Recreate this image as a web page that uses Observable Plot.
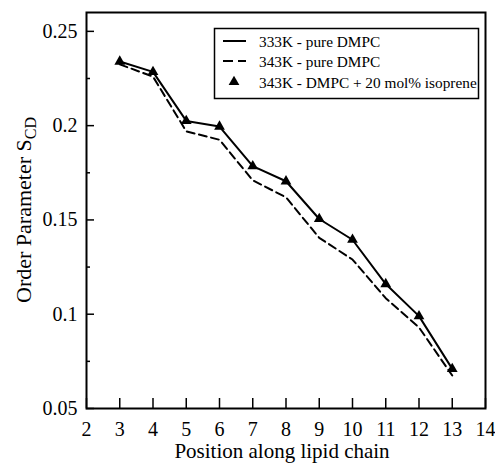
<!DOCTYPE html>
<html><head><meta charset="utf-8">
<script src="https://cdn.jsdelivr.net/npm/d3@7"></script>
<script src="https://cdn.jsdelivr.net/npm/@observablehq/plot@0.6"></script>
<style>body{margin:0;background:#fff}</style>
</head><body><div id="chart"></div>
<script>
const positions = [3, 4, 5, 6, 7, 8, 9, 10, 11, 12, 13];
const s333Pure = [0.234, 0.2285, 0.2025, 0.1995, 0.1785, 0.1705, 0.1505, 0.1395, 0.1160, 0.0990, 0.0710];
const s343Pure = [0.2325, 0.2260, 0.1970, 0.1925, 0.1710, 0.1620, 0.1405, 0.1290, 0.1085, 0.0930, 0.0675];
const s343Iso = [0.234, 0.2285, 0.2025, 0.1995, 0.1785, 0.1705, 0.1505, 0.1395, 0.1160, 0.0990, 0.0710];
const xTicks = [2, 3, 4, 5, 6, 7, 8, 9, 10, 11, 12, 13, 14];
const yTicks = [0.05, 0.1, 0.15, 0.2, 0.25];
const yTickLabels = ["0.05", "0.1", "0.15", "0.2", "0.25"];
const yMinorTicks = [0.075, 0.125, 0.175, 0.225];
const seriesLabels = ["333K - pure DMPC", "343K - pure DMPC", "343K - DMPC + 20 mol% isoprene"];
const xTitle = "Position along lipid chain";
const yTitleMain = "Order Parameter S";
const yTitleSub = "CD";

const W = 495, H = 464;
const mL = 86, mR = 10, mT = 12, mB = 56;
const innerW = W - mL - mR, innerH = H - mT - mB;
const font = "'Liberation Serif', 'Times New Roman', serif";

const rows = (ys) => positions.map((x, i) => ({x, y: ys[i]}));

const chart = Plot.plot({
  width: W, height: H,
  marginLeft: mL, marginRight: mR, marginTop: mT, marginBottom: mB,
  style: {fontFamily: font, fontSize: "20px", color: "#000", background: "#fff"},
  x: {domain: [2, 14]},
  y: {domain: [0.05, 0.26]},
  marks: [
    Plot.axisX(xTicks, {tickSize: 0, tickPadding: 13, fontSize: 20, label: null}),
    Plot.axisY(yTicks, {tickSize: 0, tickPadding: 9, fontSize: 20, label: null,
      tickFormat: (d) => yTickLabels[yTicks.indexOf(d)]}),
    Plot.tickX(xTicks, {x: (d) => d, insetTop: innerH - 10, stroke: "#000", strokeWidth: 1.5}),
    Plot.tickY(yTicks, {y: (d) => d, insetRight: innerW - 8, stroke: "#000", strokeWidth: 1.5}),
    Plot.tickY(yMinorTicks, {y: (d) => d, insetRight: innerW - 4, stroke: "#000", strokeWidth: 1.5}),
    Plot.line(rows(s343Pure), {x: "x", y: "y", stroke: "#000", strokeWidth: 2, strokeDasharray: "8,4.5"}),
    Plot.line(rows(s333Pure), {x: "x", y: "y", stroke: "#000", strokeWidth: 2}),
    Plot.dot(rows(s343Iso), {x: "x", y: "y", symbol: "triangle", r: 4, fill: "#000", stroke: "none"}),
    Plot.frame({stroke: "#000", strokeWidth: 2}),
    Plot.text([xTitle], {frameAnchor: "bottom", dy: 43, dx: -4, fontSize: 21, lineAnchor: "middle", fill: "#000"})
  ]
});

const svg = d3.select(chart);
// Y axis title with subscript
const yt = svg.append("text")
  .attr("transform", `translate(31,210) rotate(-90)`)
  .attr("text-anchor", "middle")
  .attr("font-family", font)
  .attr("font-size", 22)
  .attr("fill", "#000");
yt.append("tspan").text(yTitleMain);
yt.append("tspan").attr("font-size", 16).attr("dy", 5).text(yTitleSub);

// Legend
const lg = svg.append("g").attr("font-family", font).attr("font-size", 15.3).attr("text-anchor", "start");
lg.append("rect").attr("x", 214.5).attr("y", 28.5).attr("width", 264).attr("height", 70)
  .attr("fill", "#fff").attr("stroke", "#000").attr("stroke-width", 1.5);
const rowY = [41, 61, 82];
lg.append("line").attr("x1", 223).attr("x2", 246).attr("y1", rowY[0]).attr("y2", rowY[0])
  .attr("stroke", "#000").attr("stroke-width", 2);
lg.append("line").attr("x1", 223).attr("x2", 246).attr("y1", rowY[1]).attr("y2", rowY[1])
  .attr("stroke", "#000").attr("stroke-width", 2).attr("stroke-dasharray", "10,5");
lg.append("path").attr("d", d3.symbol(d3.symbolTriangle, Math.PI * 4 * 4)())
  .attr("transform", `translate(234,${rowY[2]})`).attr("fill", "#000");
seriesLabels.forEach((t, i) => {
  lg.append("text").attr("x", 259).attr("y", rowY[i] + 6).attr("text-anchor", "start")
    .attr("fill", "#000").text(t);
});

document.getElementById("chart").appendChild(chart);
</script>
</body></html>
